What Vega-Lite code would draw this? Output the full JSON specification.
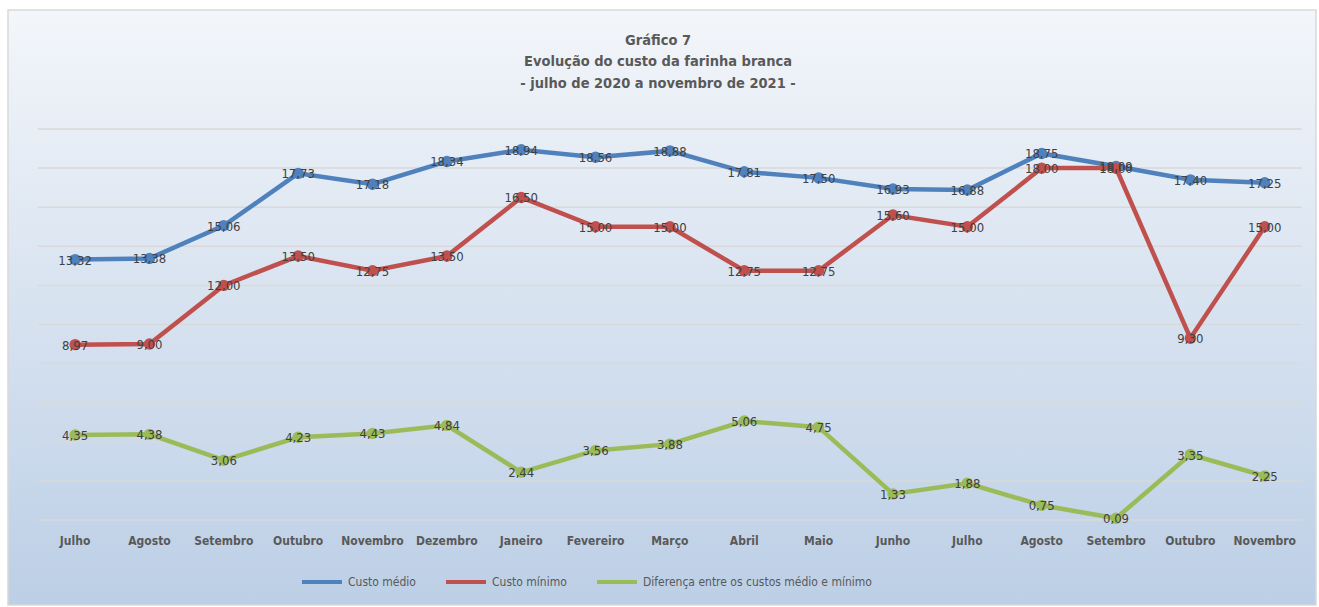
{
  "$schema": "https://vega.github.io/schema/vega-lite/v6.json",
  "width": 1308,
  "height": 595,
  "autosize": {"type": "none"},
  "padding": {"left": 8, "top": 10, "right": 3, "bottom": 2},
  "background": "white",
  "config": {
    "locale": {"number": {"decimal": ",", "thousands": ".", "grouping": [3], "currency": ["", " €"]}},
    "view": {
      "fill": {"gradient": "linear", "x1": 0, "y1": 0, "x2": 0, "y2": 1, "stops": [{"offset": 0, "color": "#f3f6fa"}, {"offset": 1, "color": "#bccfe6"}]},
      "stroke": "#d9d9d9",
      "strokeWidth": 1.5
    },
    "font": "DejaVu Sans Condensed, sans-serif"
  },
  "title": {
    "text": ["Gráfico 7", "Evolução do custo da farinha branca", "- julho de 2020 a novembro de 2021 -"],
    "fontSize": 14.5,
    "fontWeight": "bold",
    "color": "#595959",
    "lineHeight": 21.5,
    "anchor": "middle",
    "offset": 0,
    "dy": 81,
    "dx": -4,
    "font": "DejaVu Sans Condensed, sans-serif"
  },
  "data": {
    "values": [
      {"mes": "Julho|2020", "serie": "Custo médio", "valor": 13.32},
      {"mes": "Agosto|2020", "serie": "Custo médio", "valor": 13.38},
      {"mes": "Setembro|2020", "serie": "Custo médio", "valor": 15.06},
      {"mes": "Outubro|2020", "serie": "Custo médio", "valor": 17.73},
      {"mes": "Novembro|2020", "serie": "Custo médio", "valor": 17.18},
      {"mes": "Dezembro|2020", "serie": "Custo médio", "valor": 18.34},
      {"mes": "Janeiro|2021", "serie": "Custo médio", "valor": 18.94},
      {"mes": "Fevereiro|2021", "serie": "Custo médio", "valor": 18.56},
      {"mes": "Março|2021", "serie": "Custo médio", "valor": 18.88},
      {"mes": "Abril|2021", "serie": "Custo médio", "valor": 17.81},
      {"mes": "Maio|2021", "serie": "Custo médio", "valor": 17.50},
      {"mes": "Junho|2021", "serie": "Custo médio", "valor": 16.93},
      {"mes": "Julho|2021", "serie": "Custo médio", "valor": 16.88},
      {"mes": "Agosto|2021", "serie": "Custo médio", "valor": 18.75},
      {"mes": "Setembro|2021", "serie": "Custo médio", "valor": 18.09},
      {"mes": "Outubro|2021", "serie": "Custo médio", "valor": 17.40},
      {"mes": "Novembro|2021", "serie": "Custo médio", "valor": 17.25},
      {"mes": "Julho|2020", "serie": "Custo mínimo", "valor": 8.97},
      {"mes": "Agosto|2020", "serie": "Custo mínimo", "valor": 9.00},
      {"mes": "Setembro|2020", "serie": "Custo mínimo", "valor": 12.00},
      {"mes": "Outubro|2020", "serie": "Custo mínimo", "valor": 13.50},
      {"mes": "Novembro|2020", "serie": "Custo mínimo", "valor": 12.75},
      {"mes": "Dezembro|2020", "serie": "Custo mínimo", "valor": 13.50},
      {"mes": "Janeiro|2021", "serie": "Custo mínimo", "valor": 16.50},
      {"mes": "Fevereiro|2021", "serie": "Custo mínimo", "valor": 15.00},
      {"mes": "Março|2021", "serie": "Custo mínimo", "valor": 15.00},
      {"mes": "Abril|2021", "serie": "Custo mínimo", "valor": 12.75},
      {"mes": "Maio|2021", "serie": "Custo mínimo", "valor": 12.75},
      {"mes": "Junho|2021", "serie": "Custo mínimo", "valor": 15.60},
      {"mes": "Julho|2021", "serie": "Custo mínimo", "valor": 15.00},
      {"mes": "Agosto|2021", "serie": "Custo mínimo", "valor": 18.00},
      {"mes": "Setembro|2021", "serie": "Custo mínimo", "valor": 18.00},
      {"mes": "Outubro|2021", "serie": "Custo mínimo", "valor": 9.30},
      {"mes": "Novembro|2021", "serie": "Custo mínimo", "valor": 15.00},
      {"mes": "Julho|2020", "serie": "Diferença entre os custos médio e mínimo", "valor": 4.35},
      {"mes": "Agosto|2020", "serie": "Diferença entre os custos médio e mínimo", "valor": 4.38},
      {"mes": "Setembro|2020", "serie": "Diferença entre os custos médio e mínimo", "valor": 3.06},
      {"mes": "Outubro|2020", "serie": "Diferença entre os custos médio e mínimo", "valor": 4.23},
      {"mes": "Novembro|2020", "serie": "Diferença entre os custos médio e mínimo", "valor": 4.43},
      {"mes": "Dezembro|2020", "serie": "Diferença entre os custos médio e mínimo", "valor": 4.84},
      {"mes": "Janeiro|2021", "serie": "Diferença entre os custos médio e mínimo", "valor": 2.44},
      {"mes": "Fevereiro|2021", "serie": "Diferença entre os custos médio e mínimo", "valor": 3.56},
      {"mes": "Março|2021", "serie": "Diferença entre os custos médio e mínimo", "valor": 3.88},
      {"mes": "Abril|2021", "serie": "Diferença entre os custos médio e mínimo", "valor": 5.06},
      {"mes": "Maio|2021", "serie": "Diferença entre os custos médio e mínimo", "valor": 4.75},
      {"mes": "Junho|2021", "serie": "Diferença entre os custos médio e mínimo", "valor": 1.33},
      {"mes": "Julho|2021", "serie": "Diferença entre os custos médio e mínimo", "valor": 1.88},
      {"mes": "Agosto|2021", "serie": "Diferença entre os custos médio e mínimo", "valor": 0.75},
      {"mes": "Setembro|2021", "serie": "Diferença entre os custos médio e mínimo", "valor": 0.09},
      {"mes": "Outubro|2021", "serie": "Diferença entre os custos médio e mínimo", "valor": 3.35},
      {"mes": "Novembro|2021", "serie": "Diferença entre os custos médio e mínimo", "valor": 2.25}
    ]
  },
  "encoding": {
    "x": {
      "field": "mes",
      "type": "nominal",
      "sort": null,
      "scale": {
        "type": "band",
        "domain": ["Julho|2020", "Agosto|2020", "Setembro|2020", "Outubro|2020", "Novembro|2020", "Dezembro|2020", "Janeiro|2021", "Fevereiro|2021", "Março|2021", "Abril|2021", "Maio|2021", "Junho|2021", "Julho|2021", "Agosto|2021", "Setembro|2021", "Outubro|2021", "Novembro|2021"],
        "paddingInner": 0,
        "paddingOuter": 0.296,
        "align": 0.68
      },
      "axis": {
        "title": null,
        "orient": "bottom",
        "offset": -65,
        "labelExpr": "split(datum.label, '|')[0]",
        "labelAngle": 0,
        "labelBaseline": "middle",
        "labelPadding": 0,
        "ticks": false,
        "domain": false,
        "grid": false,
        "labelFontSize": 12,
        "labelFontWeight": "bold",
        "labelColor": "#595959"
      }
    },
    "y": {
      "field": "valor",
      "type": "quantitative",
      "scale": {"domain": [-4.348, 26.087], "nice": false, "zero": false},
      "axis": null
    }
  },
  "layer": [
    {
      "data": {"values": [{"g": 0}, {"g": 2}, {"g": 4}, {"g": 6}, {"g": 8}, {"g": 10}, {"g": 12}, {"g": 14}, {"g": 16}, {"g": 18}, {"g": 20}]},
      "mark": {"type": "rule", "color": "#d9d9d9", "strokeWidth": 1.5},
      "encoding": {
        "y": {"field": "g", "type": "quantitative"},
        "x": {"datum": "Julho|2020", "bandPosition": 0},
        "x2": {"datum": "Novembro|2021", "bandPosition": 1}
      }
    },
    {
      "mark": {"type": "line", "strokeWidth": 4.5},
      "encoding": {
        "color": {
          "field": "serie",
          "type": "nominal",
          "scale": {"domain": ["Custo médio", "Custo mínimo", "Diferença entre os custos médio e mínimo"], "range": ["#4f81bd", "#c0504d", "#9bbb59"]},
          "legend": {
            "title": null,
            "orient": "none",
            "legendX": 292,
            "legendY": 550,
            "direction": "horizontal",
            "symbolType": "stroke",
            "symbolSize": 1600,
            "symbolStrokeWidth": 4,
            "labelFontSize": 12,
            "labelColor": "#595959",
            "labelOffset": 4,
            "labelLimit": 0,
            "columnPadding": 22
          }
        }
      }
    },
    {
      "mark": {"type": "point", "filled": true, "size": 130, "opacity": 1},
      "encoding": {
        "color": {"field": "serie", "type": "nominal"}
      }
    },
    {
      "mark": {"type": "text", "fontSize": 13, "color": "#404040", "baseline": "middle", "dy": 1},
      "encoding": {
        "text": {"field": "valor", "type": "quantitative", "format": ".2f"}
      }
    }
  ]
}
